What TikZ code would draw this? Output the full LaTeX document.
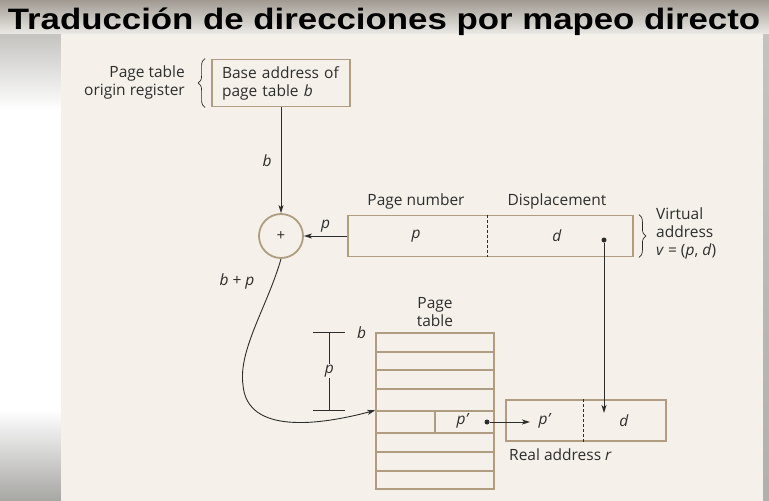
\documentclass[tikz,border=0pt]{standalone}
\usepackage{fontspec}
\setmainfont{Open Sans}
\newfontfamily\titlefont{Liberation Sans}
\usetikzlibrary{positioning,arrows.meta,decorations.pathreplacing}
\definecolor{paper}{RGB}{245,241,234}
\definecolor{tan}{RGB}{176,156,128}
\definecolor{ink}{RGB}{45,45,45}
\definecolor{titletop}{RGB}{160,154,146}
\definecolor{titlebot}{RGB}{236,234,230}
\definecolor{sidegray}{RGB}{196,195,192}

\begin{document}
\begin{tikzpicture}[
        x=1pt, y=-1pt,
        every node/.style={font=\fontsize{15.5}{18}\selectfont, text=ink, inner sep=1pt},
        box/.style={draw=tan, line width=1.8pt, fill=paper, minimum height=41pt},
        slot/.style={draw=tan, line width=1.4pt, minimum width=118pt, inner sep=0pt},
        adder/.style={draw=tan, line width=1.8pt, circle, minimum size=44pt, font=\fontsize{15}{16}\selectfont},
        blob/.style={fill=ink, circle, minimum size=5pt, inner sep=0pt},
        arrow/.style={->, draw=ink, line width=0.9pt, >={Stealth[length=8pt,width=5pt,inset=2pt]}},
        divider/.style={draw=ink, line width=0.6pt, dash pattern=on 3pt off 2pt},
        curly/.style={decorate, decoration={brace, amplitude=7pt}, draw=ink, line width=0.7pt}
    ]
        % Background
        \useasboundingbox (0,0) rectangle (769,501);
        \shade[top color=titletop, bottom color=titlebot] (0,0) rectangle (769,34);
        \fill[white] (0,34) rectangle (61,501);
        \shade[top color=sidegray, bottom color=white] (0,34) rectangle (61,110);
        \shade[top color=white, bottom color=sidegray!85!black] (0,410) rectangle (61,501);
        \shade[top color=sidegray, bottom color=sidegray!90!black] (763,34) rectangle (769,501);
        \fill[paper] (61,34) rectangle (763,501);

        % Title
        \node[font=\titlefont\bfseries\fontsize{29.5}{32}\selectfont, text=black, anchor=base] (title) at (384,29)
            {\scalebox{1.18}[1]{Traducción de direcciones por mapeo directo}};

        % Page table origin register
        \node[box, minimum width=138pt, minimum height=47pt, align=left, text width=118pt] (base) at (281,83)
            {Base address of\\page table \textit{b}};
        \node[align=right, anchor=east] (origin) at (186,82) {Page table\\origin register};
        \draw[curly] ([xshift=-6pt]base.south west) -- ([xshift=-6pt]base.north west);

        % Adder
        \node[adder] (sum) at (281,236) {+};

        % Virtual address
        \node[box, minimum width=285pt] (vaddr) at (490.5,236) {};
        \draw[divider] ([xshift=140pt]vaddr.north west) -- ([xshift=140pt]vaddr.south west);
        \node (vp) at (416,236) {\textit{p}};
        \node (vd) at (557,236) {\textit{d}};
        \node (pnum) at (416,201) {Page number};
        \node (disp) at (557,201) {Displacement};
        \node[blob] (vdot) at (604,240) {};
        \draw[curly] ([xshift=5pt]vaddr.north east) -- ([xshift=5pt]vaddr.south east);
        \node[align=left, anchor=west] (vlabel) at (655,233) {Virtual\\address\\\textit{v} = (\textit{p}, \textit{d})};

        % Page table
        \foreach \r/\y/\h in {1/342.5/19, 2/361/18, 3/379.5/19, 4/400/22, 5/422/22, 6/442.5/19, 7/461.5/19, 8/480/18} {
            \node[slot, minimum height=\h pt] (row\r) at (435,\y) {};
        }
        \draw[draw=tan, line width=1.4pt] (row5.north) -- (row5.south);
        \node (pt) at (463,421) {\textit{p'}};
        \node[blob] (pdot) at (487,422) {};
        \node[align=center, above=4pt of row1] (ptlabel) {Page\\table};
        \node[anchor=east] (tb) at ([xshift=-8pt]row1.north west) {\textit{b}};

        % Offset p inside the table
        \coordinate (dtop) at ([xshift=-46pt]row1.north west);
        \coordinate (dbot) at ([xshift=-46pt]row5.north west);
        \draw[draw=ink, line width=0.8pt] ([xshift=-16pt]dtop) -- ([xshift=16pt]dtop)
            ([xshift=-16pt]dbot) -- ([xshift=16pt]dbot);
        \draw[draw=ink, line width=0.8pt] (dtop) -- (dbot) node[midway, fill=paper] {\textit{p}};

        % Real address
        \node[box, minimum width=160pt] (raddr) at (586,420.5) {};
        \draw[divider] ([xshift=78pt]raddr.north west) -- ([xshift=78pt]raddr.south west);
        \node (rp) at (545,421) {\textit{p'}};
        \node (rd) at (624,421) {\textit{d}};
        \node[anchor=base west] (rlabel) at (508,460) {Real address \textit{r}};
        \coordinate (rtip) at (604,413);
        \coordinate (ptip) at (530,422);

        % Arrows
        \draw[arrow] (base) -- (sum) node[midway, left=8pt] {\textit{b}};
        \draw[arrow] (vaddr.west) -- (sum.east) node[midway, above=2pt] {\textit{p}};
        \draw[arrow] (vdot) -- (rtip);
        \draw[arrow] (pdot) -- (ptip);
        \draw[arrow] (sum.south) .. controls (268,305) and (238,350) .. (243,385)
            .. controls (247,435) and (320,425) .. (row5.north west);
        \node (bp) at (237,281) {\textit{b} + \textit{p}};
    \end{tikzpicture}
\end{document}
